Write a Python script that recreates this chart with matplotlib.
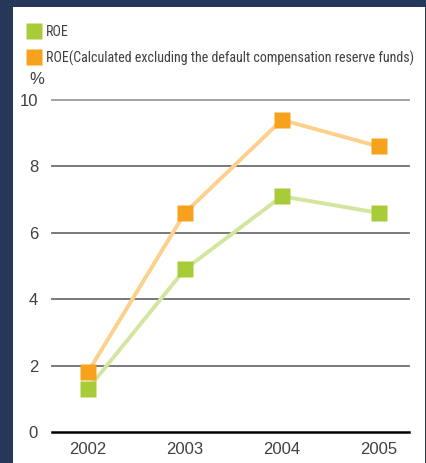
import matplotlib.pyplot as plt
from matplotlib.lines import Line2D
from matplotlib.patches import Rectangle

years = ['2002', '2003', '2004', '2005']
roe = [1.3, 4.9, 7.1, 6.6]
roe_excl = [1.8, 6.6, 9.4, 8.6]
yticks = [0, 2, 4, 6, 8, 10]

green = '#a8cc38'
green_line = '#d3e6a0'
orange = '#f7a21c'
orange_line = '#fdd08c'
text_col = '#404040'

plt.rcParams['font.family'] = ['Liberation Sans', 'DejaVu Sans']

fig = plt.figure(figsize=(4.27, 4.63), dpi=100)
fig.patch.set_facecolor('#27375a')
# white card behind the chart
fig.patches.append(Rectangle((13 / 427, 0), 412 / 427, 1 - 7 / 463,
                             transform=fig.transFigure, facecolor='white',
                             edgecolor='none', zorder=-5))

ax = fig.add_axes([52 / 427, 31 / 463, 357 / 427, 332 / 463])
ax.set_facecolor('none')

x = range(len(years))
ax.plot(x, roe, color=green_line, lw=2.8, zorder=3)
ax.plot(x, roe_excl, color=orange_line, lw=2.8, zorder=3)
ax.plot(x, roe, ls='none', marker='s', ms=11.5, color=green, mec='none', zorder=4, clip_on=False)
ax.plot(x, roe_excl, ls='none', marker='s', ms=11.5, color=orange, mec='none', zorder=4, clip_on=False)

ax.set_xlim(-0.37, 3.31)
ax.set_ylim(0, 10)
ax.set_xticks(list(x))
ax.set_xticklabels(years)
ax.set_yticks(yticks)
ax.set_yticklabels([str(v) for v in yticks])
ax.tick_params(length=0, labelsize=12, labelcolor=text_col)
ax.tick_params(axis='x', pad=7)
ax.tick_params(axis='y', pad=10)

for v in yticks[1:]:
    ax.axhline(v, color='#9a9a9a' if v == 10 else '#6e6e6e', lw=1.3, zorder=1, clip_on=False)
for s in ['top', 'right', 'left']:
    ax.spines[s].set_visible(False)
ax.spines['bottom'].set_color('black')
ax.spines['bottom'].set_linewidth(1.8)

handles = [Line2D([], [], ls='none', marker='s', ms=11.5, color=green, mec='none'),
           Line2D([], [], ls='none', marker='s', ms=11.5, color=orange, mec='none')]
labels = ['ROE', 'ROE(Calculated excluding the default compensation reserve funds)']
fig.legend(handles, labels, loc='upper left', bbox_to_anchor=(28 / 427, 1 - 25 / 463),
           frameon=False, labelcolor=text_col, handlelength=0.9,
           handletextpad=0.4, labelspacing=0.8, borderpad=0, borderaxespad=0,
           prop={'family': ['Roboto Condensed', 'DejaVu Sans'], 'size': 10.1})

fig.text(29 / 427, 1 - 80 / 463, '%', fontsize=12, color=text_col,
         ha='left', va='center')

fig.savefig('out.png', dpi=100, facecolor=fig.get_facecolor())
